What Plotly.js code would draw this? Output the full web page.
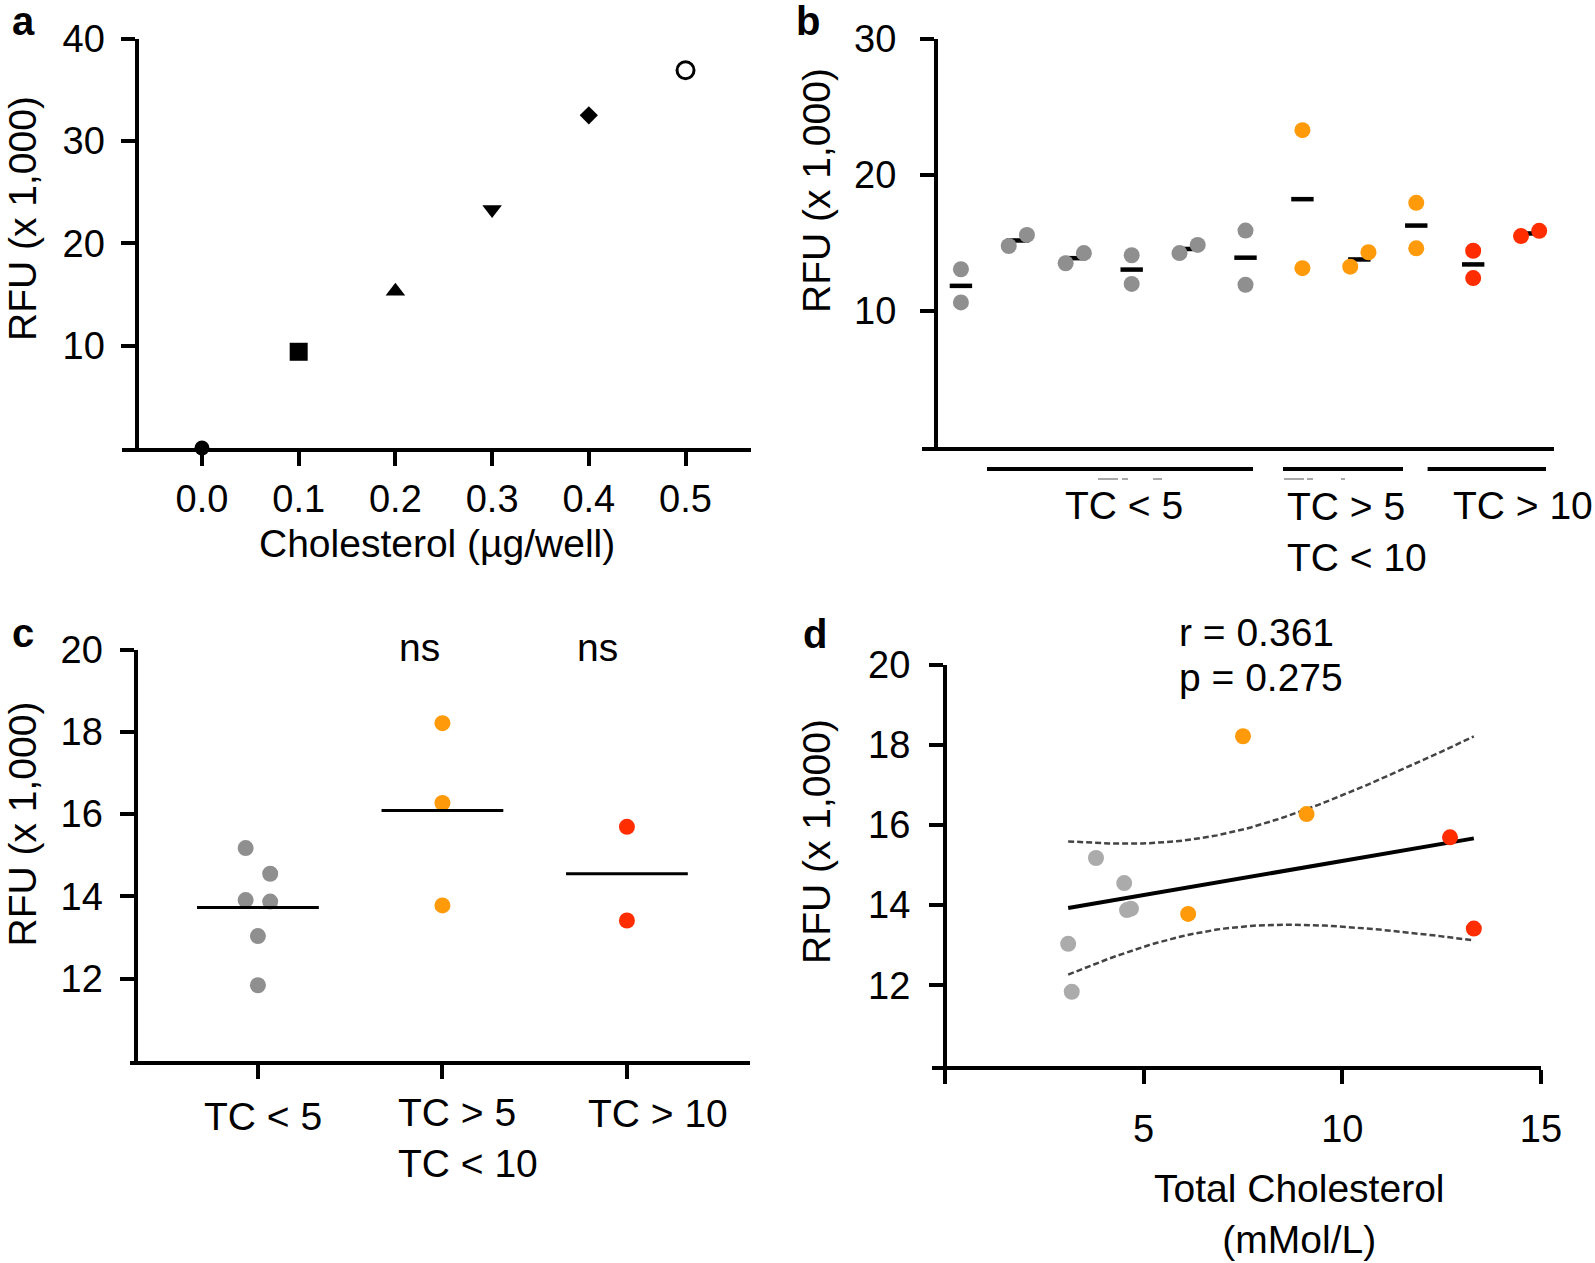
<!DOCTYPE html>
<html><head><meta charset="utf-8">
<script src="https://cdn.plot.ly/plotly-3.0.1.min.js"></script>
<style>html,body{margin:0;padding:0;background:#fff}#chart{width:1595px;height:1263px}</style>
</head><body><div id="chart"></div>
<script>
// ================= DATA =================
// Panel a: standard curve
const cholesterolUg = [0.0, 0.1, 0.2, 0.3, 0.4, 0.5];
const rfuStandard   = [0, 9.4, 15.3, 23.3, 32.5, 36.9];

// Panel b: duplicate measurements of each serum sample (RFU x 1,000)
const sampleGroup = ['TC<5','TC<5','TC<5','TC<5','TC<5','TC<5','TC5-10','TC5-10','TC5-10','TC>10','TC>10'];
const rfuRep1 = [13.06, 14.77, 13.50, 14.09, 14.25, 15.90, 23.28, 13.25, 17.94, 14.42, 15.50];
const rfuRep2 = [10.62, 15.58, 14.25, 11.98, 14.85, 11.92, 13.14, 14.31, 14.60, 12.41, 15.88];

// Panel d: total cholesterol of each sample (mMol/L)
const totalCholesterol = [3.19, 3.80, 4.58, 3.10, 4.51, 4.68, 7.50, 6.12, 9.10, 13.31, 12.71];

// Groups and text
const groupKeys   = ['TC<5', 'TC5-10', 'TC>10'];
const groupLabels = ['TC &lt; 5', 'TC &gt; 5<br>TC &lt; 10', 'TC &gt; 10'];
const standardTicks = ['0.0', '0.1', '0.2', '0.3', '0.4', '0.5'];
const statR = 'r = 0.361';
const statP = 'p = 0.275';
const sigLabels = ['ns', 'ns'];
const yTitle = 'RFU (x 1,000)';

// ================= STYLE =================
const W = 1595, H = 1263;
const FONT = 'Liberation Sans, Arial, Helvetica, sans-serif';
const colorBC = {'TC<5': '#8f8f8f', 'TC5-10': '#ff9a0a', 'TC>10': '#ff2d00'};
const colorD  = {'TC<5': '#ababab', 'TC5-10': '#ff9a0a', 'TC>10': '#ff2d00'};
const symbolsA = ['circle', 'square', 'triangle-up', 'triangle-down', 'diamond', 'circle-open'];
const sizesA   = [15, 18, 17, 17, 14, 17];
const lineWA   = [0, 0, 0, 0, 0, 3];
const px = p => p / W;
const py = p => 1 - p / H;

// ================= HELPERS =================
const mean = a => a.reduce((s, v) => s + v, 0) / a.length;
// simple swarm: values closer than h are spread horizontally
function swarm(vals, h, spread, dir) {
  const idx = vals.map((v, i) => i).sort((a, b) => vals[b] - vals[a]);
  const off = new Array(vals.length).fill(0);
  let k = 0;
  while (k < idx.length) {
    let j = k + 1;
    while (j < idx.length && vals[idx[k]] - vals[idx[j]] < h) j++;
    const n = j - k;
    for (let m = 0; m < n; m++) off[idx[k + m]] = (m - (n - 1) / 2) * spread * dir;
    k = j;
  }
  return off;
}

const sampleMean = rfuRep1.map((v, i) => (v + rfuRep2[i]) / 2);
const traces = [];

// ----- Panel a -----
traces.push({
  type: 'scatter', mode: 'markers', xaxis: 'x', yaxis: 'y', cliponaxis: false,
  x: cholesterolUg, y: rfuStandard,
  marker: {symbol: symbolsA, size: sizesA, color: '#000', opacity: 1, line: {color: '#000', width: lineWA}},
  hoverinfo: 'x+y'
});

// ----- Panel b -----
traces.push({
  type: 'scatter', mode: 'markers', xaxis: 'x2', yaxis: 'y2', cliponaxis: false,
  x: sampleMean.map((m, i) => i + 1), y: sampleMean,
  marker: {symbol: 'line-ew', size: 16, opacity: 1, line: {color: '#000', width: 4.5}},
  hoverinfo: 'y'
});
groupKeys.forEach(g => {
  const bx = [], by = [];
  sampleGroup.forEach((sg, i) => {
    if (sg !== g) return;
    const pair = [rfuRep1[i], rfuRep2[i]];
    const off = swarm(pair, 1.2, 0.32, -1);
    pair.forEach((v, k) => { bx.push(i + 1 + off[k]); by.push(v); });
  });
  traces.push({
    type: 'scatter', mode: 'markers', xaxis: 'x2', yaxis: 'y2', cliponaxis: false,
    x: bx, y: by, marker: {size: 16, color: colorBC[g], opacity: 1}, hoverinfo: 'y'
  });
});

// ----- Panel c -----
const cMeanX = [], cMeanY = [];
groupKeys.forEach((g, gi) => {
  const vals = sampleMean.filter((v, i) => sampleGroup[i] === g);
  const off = swarm(vals, 0.7, 0.133, 1);
  traces.push({
    type: 'scatter', mode: 'markers', xaxis: 'x3', yaxis: 'y3', cliponaxis: false,
    x: vals.map((v, k) => gi + off[k]), y: vals,
    marker: {size: 16, color: colorBC[g], opacity: 1}, hoverinfo: 'y'
  });
  const m = mean(vals);
  cMeanX.push(gi - 0.33, gi + 0.33, null);
  cMeanY.push(m, m, null);
});
traces.push({
  type: 'scatter', mode: 'lines', xaxis: 'x3', yaxis: 'y3',
  x: cMeanX, y: cMeanY, line: {color: '#000', width: 3}, hoverinfo: 'skip'
});

// ----- Panel d -----
const n = totalCholesterol.length;
const xm = mean(totalCholesterol), ym = mean(sampleMean);
let sxx = 0, sxy = 0, syy = 0;
totalCholesterol.forEach((x, i) => {
  sxx += (x - xm) ** 2; sxy += (x - xm) * (sampleMean[i] - ym); syy += (sampleMean[i] - ym) ** 2;
});
const slope = sxy / sxx, icpt = ym - slope * xm;
const sRes = Math.sqrt((syy - sxy * sxy / sxx) / (n - 2));
const T975 = 2.262; // t(0.975, df = 9)
const xMin = Math.min(...totalCholesterol), xMax = Math.max(...totalCholesterol);
const bandX = [], bandLo = [], bandHi = [];
for (let k = 0; k <= 60; k++) {
  const x = xMin + (xMax - xMin) * k / 60;
  const yh = icpt + slope * x;
  const hw = T975 * sRes * Math.sqrt(1 / n + (x - xm) ** 2 / sxx);
  bandX.push(x); bandLo.push(yh - hw); bandHi.push(yh + hw);
}
[bandHi, bandLo].forEach(b => traces.push({
  type: 'scatter', mode: 'lines', xaxis: 'x4', yaxis: 'y4',
  x: bandX, y: b, line: {color: '#444', width: 2.5, dash: '6px,3px'}, hoverinfo: 'skip'
}));
traces.push({
  type: 'scatter', mode: 'lines', xaxis: 'x4', yaxis: 'y4',
  x: [xMin, xMax], y: [icpt + slope * xMin, icpt + slope * xMax],
  line: {color: '#000', width: 4}, hoverinfo: 'skip'
});
groupKeys.forEach(g => {
  const xs = [], ys = [];
  sampleGroup.forEach((sg, i) => { if (sg === g) { xs.push(totalCholesterol[i]); ys.push(sampleMean[i]); } });
  traces.push({
    type: 'scatter', mode: 'markers', xaxis: 'x4', yaxis: 'y4', cliponaxis: false,
    x: xs, y: ys, marker: {size: 16, color: colorD[g], opacity: 1}, hoverinfo: 'x+y'
  });
});

// ================= LAYOUT =================
function ax(extra) {
  return Object.assign({
    showline: true, linewidth: 4, linecolor: '#000',
    ticks: 'outside', ticklen: 14, tickwidth: 4, tickcolor: '#000',
    showgrid: false, zeroline: false, fixedrange: true,
    tickfont: {family: FONT, size: 38, color: '#000'}
  }, extra);
}

const layout = {
  width: W, height: H, margin: {l: 0, r: 0, t: 0, b: 0},
  paper_bgcolor: '#fff', plot_bgcolor: 'rgba(0,0,0,0)', showlegend: false,
  font: {family: FONT, size: 38, color: '#000'},
  xaxis: ax({domain: [px(121.5), px(751)], range: [-0.0832, 0.5677], anchor: 'y',
             tickvals: cholesterolUg, ticktext: standardTicks, ticklabelstandoff: 0}),
  yaxis: ax({domain: [py(448), py(38.5)], range: [0, 40], anchor: 'free', position: px(136.5),
             tickvals: [10, 20, 30, 40], ticklabelstandoff: 8}),
  xaxis2: ax({domain: [px(922), px(1554)], range: [0.316, 11.42], anchor: 'y2',
              ticks: '', showticklabels: false}),
  yaxis2: ax({domain: [py(447), py(38.7)], range: [0, 30], anchor: 'free', position: px(936),
              tickvals: [10, 20, 30], ticklabelstandoff: 16}),
  xaxis3: ax({domain: [px(129.5), px(750)], range: [-0.696, 2.667], anchor: 'y3',
              tickvals: [0, 1, 2], showticklabels: false}),
  yaxis3: ax({domain: [py(1061), py(649.5)], range: [10, 20], anchor: 'free', position: px(135.5),
              tickvals: [12, 14, 16, 18, 20], ticklabelstandoff: 9}),
  xaxis4: ax({domain: [px(932), px(1541)], range: [-0.327, 15], anchor: 'y4',
              tickvals: [0, 5, 10, 15], ticktext: ['', '5', '10', '15'], ticklabelstandoff: 13}),
  yaxis4: ax({domain: [py(1065.5), py(664.5)], range: [10, 20], anchor: 'free', position: px(945),
              tickvals: [12, 14, 16, 18, 20], ticklabelstandoff: 11}),
  shapes: [],
  annotations: []
};

// group bars under panel b
[[987, 1253], [1283, 1403], [1427.6, 1546]].forEach(s => layout.shapes.push({
  type: 'line', xref: 'paper', yref: 'paper', x0: px(s[0]), x1: px(s[1]), y0: py(469), y1: py(469),
  line: {color: '#000', width: 4}
}));
[[1098, 1118], [1122, 1128], [1153, 1162], [1284, 1304], [1307, 1313], [1341, 1345]].forEach(s => layout.shapes.push({
  type: 'line', xref: 'paper', yref: 'paper', x0: px(s[0]), x1: px(s[1]), y0: py(479), y1: py(479),
  line: {color: '#a8a8a8', width: 2}
}));

function ann(text, x, y, o) {
  layout.annotations.push(Object.assign({
    text: text, xref: 'paper', yref: 'paper', x: px(x), y: py(y), showarrow: false,
    xanchor: 'center', yanchor: 'middle', font: {family: FONT, size: 39, color: '#000'}
  }, o || {}));
}
// panel letters
ann('<b>a</b>', 23, 21, {font: {family: FONT, size: 40, color: '#000'}});
ann('<b>b</b>', 808, 21, {font: {family: FONT, size: 40, color: '#000'}});
ann('<b>c</b>', 23, 633, {font: {family: FONT, size: 40, color: '#000'}});
ann('<b>d</b>', 815, 634, {font: {family: FONT, size: 40, color: '#000'}});
// axis titles
ann(yTitle, 22.5, 218.5, {textangle: -90});
ann('Cholesterol (µg/well)', 437, 543.5);
ann(yTitle, 816, 191, {textangle: -90});
ann(yTitle, 21.5, 824, {textangle: -90});
ann(yTitle, 816, 842, {textangle: -90});
ann('Total Cholesterol<br>(mMol/L)', 1299, 1214);
// panel b group labels
ann(groupLabels[0], 1124, 505.5);
ann(groupLabels[1], 1285, 532, {xanchor: 'left', align: 'left'});
ann(groupLabels[2], 1451, 505.6, {xanchor: 'left'});
// panel c group labels
ann(groupLabels[0], 262.5, 1116.5);
ann(groupLabels[1], 395.5, 1138, {xanchor: 'left', align: 'left'});
ann(groupLabels[2], 657.5, 1113);
ann(sigLabels[0], 419, 647);
ann(sigLabels[1], 597, 647);
// panel d stats
ann(statR, 1177, 632, {xanchor: 'left'});
ann(statP, 1177, 677, {xanchor: 'left'});

Plotly.newPlot('chart', traces, layout, {staticPlot: true, displayModeBar: false});
</script>
</body></html>
